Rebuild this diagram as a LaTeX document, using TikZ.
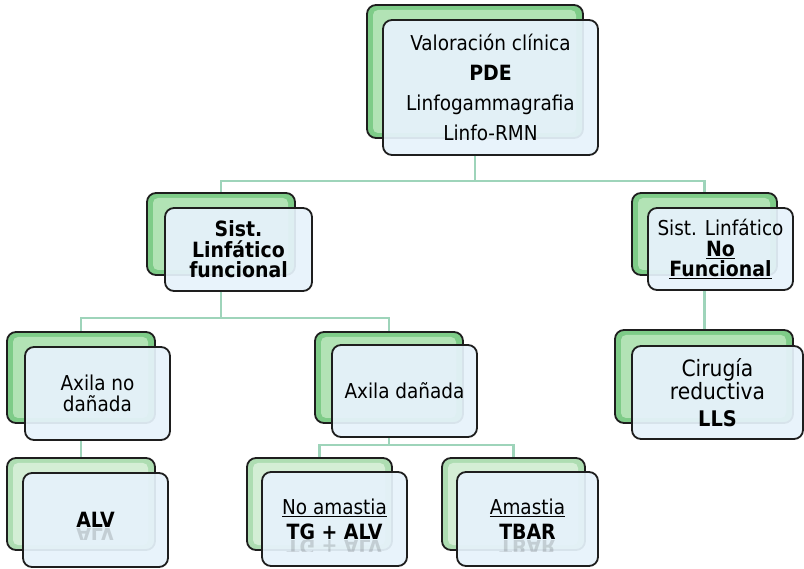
\documentclass[tikz,border=0pt]{standalone}
\usepackage{fontspec}
\setmainfont{DejaVu Sans Condensed}
\usetikzlibrary{calc}
\definecolor{frontfill}{HTML}{E6F2FB}
\definecolor{edgecol}{HTML}{1E1E1E}
\definecolor{gdark}{HTML}{7ECC88}
\definecolor{glight}{HTML}{B2E3B5}
\definecolor{pdark}{HTML}{AEDDB2}
\definecolor{plight}{HTML}{D4EED5}
\definecolor{conncol}{HTML}{9ED4BA}
\newcommand\bfx[1]{{\fontsize{21}{21}\selectfont\bfseries #1}}
\newcommand\backb[7]{%
  \node[backbox, fill=#6, minimum width={(#4-#2)*1pt}, minimum height={(#5-#3)*1pt}] (#1) at ({(#2+#4)/2},{(#3+#5)/2}) {};
  \fill[#7, rounded corners=5pt] ({#2+6},{#3+5}) rectangle ({#4-7},{#5-5});
}
\tikzset{
  conn/.style={draw=conncol, line width=2.3pt},
  backbox/.style={draw=edgecol, line width=1.8pt, rounded corners=9pt, inner sep=0pt},
  frontbox/.style={draw=edgecol, line width=1.8pt, rounded corners=9pt, fill=frontfill,
    fill opacity=0.93, text opacity=1, align=center, inner sep=0pt,
    font=\fontsize{20.5}{20.5}\selectfont},
  refl/.style={anchor=base, yscale=-1, opacity=0.14, inner sep=0pt}
}
\begin{document}
\begin{tikzpicture}[x=1pt,y=-1pt]
\useasboundingbox (0,0) rectangle (804,569);

% back boxes
\backb{topb}{367}{5}{583}{138}{gdark}{glight}
\backb{slfb}{147}{193}{295}{275}{gdark}{glight}
\backb{slnfb}{632}{193}{777}{275}{gdark}{glight}
\backb{andb}{7}{332}{155}{423}{gdark}{glight}
\backb{adb}{315}{332}{463}{423}{gdark}{glight}
\backb{crb}{615}{330}{793}{423}{gdark}{glight}
\backb{alvb}{7}{458}{155}{550}{pdark}{plight}
\backb{nab}{247}{458}{392}{550}{pdark}{plight}
\backb{amb}{442}{458}{585}{550}{pdark}{plight}

% front boxes
\node[frontbox, minimum width=215pt, minimum height=135pt, font=\fontsize{20.5}{30}\selectfont] (top) at (490.5,87.5)
  {Valoración clínica\\ \bfx{PDE}\\ Linfogammagrafia\\ Linfo-RMN};
\node[frontbox, minimum width=147pt, minimum height=83pt] (slf) at (238.5,249.5)
  {\bfx{Sist.}\\ \bfx{Linfático}\\ \bfx{funcional}};
\node[frontbox, minimum width=145pt, minimum height=82pt] (slnf) at (720.5,249)
  {Sist. Linfático\\ \bfx{\underline{No}}\\ \bfx{\underline{Funcional}}};
\node[frontbox, minimum width=145pt, minimum height=93pt] (and) at (97.5,393.5)
  {Axila no\\ dañada};
\node[frontbox, minimum width=145pt, minimum height=92pt] (ad) at (404.5,391)
  {Axila dañada};
\node[frontbox, minimum width=171pt, minimum height=93pt, font=\fontsize{22.5}{23.5}\selectfont] (cr) at (717.5,392.5)
  {Cirugía\\ reductiva\\[3pt] {\fontsize{21.5}{23}\selectfont\bfseries LLS}};
\node[frontbox, minimum width=145pt, minimum height=94pt] (alv) at (95.5,520)
  {\bfx{ALV}};
\node[frontbox, minimum width=145pt, minimum height=94pt, font=\fontsize{20.5}{25}\selectfont] (na) at (334.5,519)
  {\underline{No amastia}\\ \bfx{TG + ALV}};
\node[frontbox, minimum width=141pt, minimum height=94pt, font=\fontsize{20.5}{25}\selectfont] (am) at (527.5,519)
  {\underline{Amastia}\\ \bfx{TBAR}};

% connectors: from bottom edge of a front box to top edge of a back box
\coordinate (j1) at (475,181);
\coordinate (j2) at (221,318);
\coordinate (j3) at (389,445);
\draw[conn] (topb.center |- top.south) -- (j1) -| (slfb.north);
\draw[conn] (j1) -| (slnfb.north);
\draw[conn] (slfb.center |- slf.south) -- (j2) -| (andb.north);
\draw[conn] (j2) -| (adb.north);
\draw[conn] (slnfb.center |- slnf.south) -- (slnfb.center |- crb.north);
\draw[conn] (andb.center |- and.south) -- (andb.center |- alvb.north);
\draw[conn] (adb.center |- ad.south) -- (j3) -| (nab.north);
\draw[conn] (j3) -| (amb.north);

% reflections
\begin{scope}
  \clip (20,528) rectangle (170,539);
  \node[refl] (alvr) at (alv.center |- 0,528) {\bfx{ALV}};
\end{scope}
\begin{scope}
  \clip (262,540) rectangle (407,551);
  \node[refl] (nar) at (na.center |- 0,540) {\bfx{TG + ALV}};
\end{scope}
\begin{scope}
  \clip (457,540) rectangle (598,551);
  \node[refl] (amr) at (am.center |- 0,540) {\bfx{TBAR}};
\end{scope}
\end{tikzpicture}
\end{document}
